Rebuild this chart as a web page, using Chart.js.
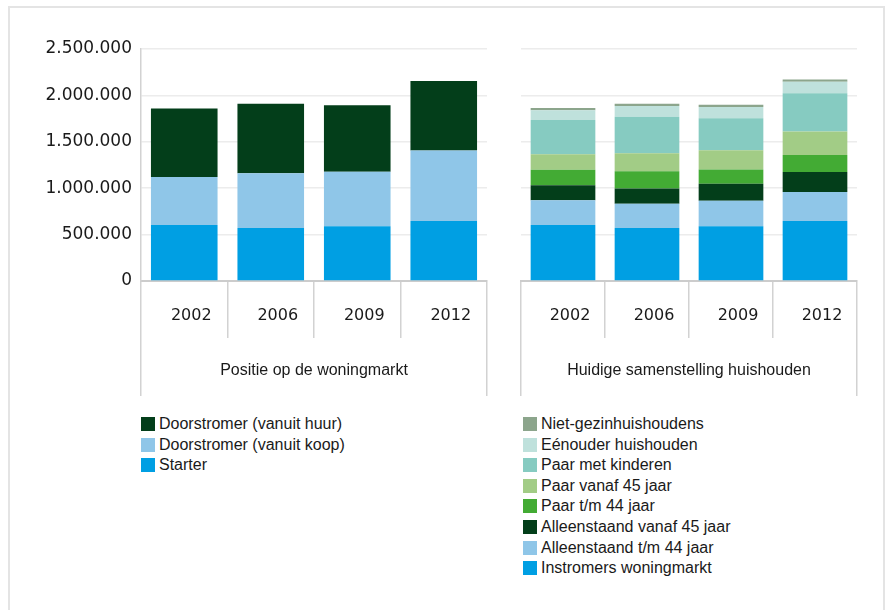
<!DOCTYPE html>
<html>
<head>
<meta charset="utf-8">
<script src="https://cdn.jsdelivr.net/npm/chart.js@4/dist/chart.umd.min.js"></script>
<style>
  html, body { margin: 0; padding: 0; background: #fff; }
  #wrap { position: relative; width: 889px; height: 610px; overflow: hidden; }
  #kader { position: absolute; left: 8px; top: 6px; width: 877px; height: 640px; border: 2px solid #e4e4e4; box-sizing: border-box; }
  canvas { position: absolute; top: 0; }
  #links { left: 0; }
  #rechts { left: 518px; }
  .legenda { position: absolute; top: 417px; font-family: "Liberation Sans", Arial, sans-serif; font-size: 16px; color: #1a1a1a; }
  .legenda div { height: 20.6px; line-height: 14px; white-space: nowrap; }
  .legenda span { display: inline-block; width: 14px; height: 14px; vertical-align: top; margin-right: 4px; }
</style>
</head>
<body>
<div id="wrap">
  <div id="kader"></div>
  <canvas id="links" width="500" height="400"></canvas>
  <canvas id="rechts" width="343" height="400"></canvas>
  <div class="legenda" id="legLinks" style="left:141px"></div>
  <div class="legenda" id="legRechts" style="left:523px"></div>
</div>
<script>
// jaren op de x-as
const jaren = ["2002", "2006", "2009", "2012"];

// Positie op de woningmarkt
const starter = [603000, 571000, 589000, 647000];
const doorstromerKoop = [517000, 589000, 589000, 758000];
const doorstromerHuur = [740000, 750000, 715000, 751000];

// Huidige samenstelling huishouden
const instromers = [603000, 571000, 589000, 647000];
const alleenTot44 = [266000, 262000, 277000, 313000];
const alleenVanaf45 = [164000, 164000, 182000, 215000];
const paarTot44 = [167000, 186000, 153000, 182000];
const paarVanaf45 = [167000, 193000, 207000, 255000];
const paarKinderen = [368000, 393000, 346000, 411000];
const eenouder = [106000, 116000, 120000, 124000];
const nietGezin = [22000, 25000, 25000, 25000];

const blauw = '#009fe3', lichtblauw = '#8fc6e8', donkergroen = '#033e1a';

function punten(v) {
  return String(v).replace(/\B(?=(\d{3})+(?!\d))/g, '.');
}

function maakSet(label, data, kleur) {
  return { label: label, data: data, backgroundColor: kleur, xAxisID: 'x', yAxisID: 'y', borderWidth: 0 };
}

const tekst = '#1a1a1a';
const lijn = '#d2d2d2';

function opties(groepNaam, metYas, rechtsPad, linksPad) {
  return {
    responsive: false,
    animation: false,
    layout: { padding: { top: 49, right: rechtsPad, bottom: 4, left: linksPad } },
    plugins: { legend: { display: false }, tooltip: { enabled: false } },
    datasets: { bar: { categoryPercentage: 1, barPercentage: 0.77 } },
    scales: {
      x: {
        stacked: true,
        offset: true,
        grid: { offset: true, drawOnChartArea: false, tickLength: 57, color: lijn, lineWidth: 1.5 },
        border: { color: '#cccccc', width: 2 },
        ticks: { padding: -32, labelOffset: 7, color: tekst, font: { family: 'DejaVu Sans', size: 16 } },
        afterFit: function (s) { s.height = 57; }
      },
      groep: {
        type: 'category',
        position: 'bottom',
        labels: [groepNaam],
        offset: true,
        grid: { offset: true, drawOnChartArea: false, tickLength: 58, color: lijn, lineWidth: 1.5 },
        border: { display: false },
        ticks: { padding: -35, color: tekst, font: { family: 'Liberation Sans', size: 16 } },
        afterFit: function (s) { s.height = 58; }
      },
      y: {
        stacked: true,
        min: 0,
        max: 2500000,
        ticks: {
          display: metYas,
          stepSize: 500000,
          padding: 9,
          color: tekst,
          font: { family: 'DejaVu Sans', size: 17 },
          callback: function (v) { return punten(v); }
        },
        grid: { drawTicks: false, color: '#ececec', lineWidth: 1.5 },
        border: { display: metYas, color: lijn, width: 1.5 },
        afterFit: function (s) { s.width = metYas ? 141 : 0; }
      }
    }
  };
}

const grafLinks = new Chart(document.getElementById('links'), {
  type: 'bar',
  data: {
    labels: jaren,
    datasets: [
      maakSet('Starter', starter, blauw),
      maakSet('Doorstromer (vanuit koop)', doorstromerKoop, lichtblauw),
      maakSet('Doorstromer (vanuit huur)', doorstromerHuur, donkergroen)
    ]
  },
  options: opties('Positie op de woningmarkt', true, 13, 0)
});

const grafRechts = new Chart(document.getElementById('rechts'), {
  type: 'bar',
  data: {
    labels: jaren,
    datasets: [
      maakSet('Instromers woningmarkt', instromers, blauw),
      maakSet('Alleenstaand t/m 44 jaar', alleenTot44, lichtblauw),
      maakSet('Alleenstaand vanaf 45 jaar', alleenVanaf45, donkergroen),
      maakSet('Paar t/m 44 jaar', paarTot44, '#43ab34'),
      maakSet('Paar vanaf 45 jaar', paarVanaf45, '#a2cc86'),
      maakSet('Paar met kinderen', paarKinderen, '#86cbc1'),
      maakSet('Eénouder huishouden', eenouder, '#bfe1dc'),
      maakSet('Niet-gezinhuishoudens', nietGezin, '#8ca58c')
    ]
  },
  options: opties('Huidige samenstelling huishouden', false, 4, 3)
});

// legenda: bovenste laag eerst
function legenda(chart, id) {
  const doel = document.getElementById(id);
  chart.data.datasets.slice().reverse().forEach(function (ds) {
    const rij = document.createElement('div');
    const blok = document.createElement('span');
    blok.style.background = ds.backgroundColor;
    rij.appendChild(blok);
    rij.appendChild(document.createTextNode(ds.label));
    doel.appendChild(rij);
  });
}
legenda(grafLinks, 'legLinks');
legenda(grafRechts, 'legRechts');
</script>
</body>
</html>
